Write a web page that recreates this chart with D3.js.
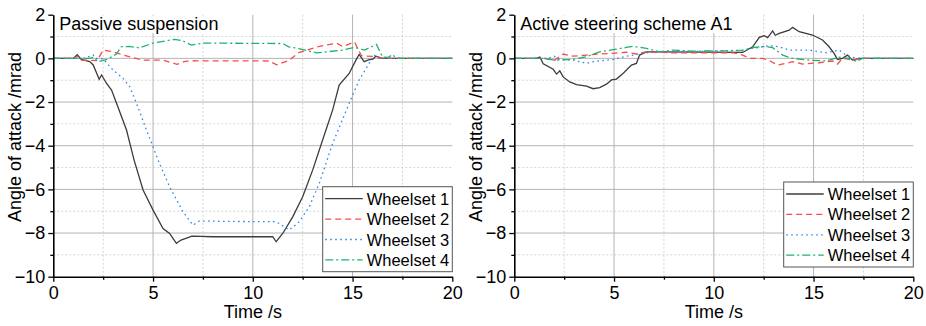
<!DOCTYPE html>
<html>
<head>
<meta charset="utf-8">
<script src="https://cdn.jsdelivr.net/npm/d3@7"></script>
<style>
    body { margin: 0; background: white; }
    svg text { font-family: "Liberation Sans", Arial, sans-serif; fill: black; }
</style>
</head>
<body>
<svg id="chart"></svg>
<script>
// data: [time s, angle mrad]
const passiveW1 = [[0,0],[1.0,0],[1.2,0.17],[1.4,-0.05],[1.83,-0.15],[2.0,-0.3],[2.3,-0.96],[2.42,-0.76],[2.67,-1.15],[2.92,-1.45],[3.17,-2.06],[3.67,-3.28],[4.05,-4.66],[4.5,-6.03],[5.0,-6.95],[5.5,-7.79],[5.83,-8.02],[6.17,-8.47],[6.4,-8.32],[6.95,-8.14],[8.0,-8.17],[11.0,-8.17],[11.17,-8.4],[11.5,-8.02],[12.0,-7.26],[12.5,-6.34],[13.0,-5.12],[13.5,-3.74],[14.0,-2.37],[14.33,-1.22],[14.83,-0.69],[15.17,-0.08],[15.33,0.18],[15.58,-0.15],[15.83,-0.06],[16.0,-0.05],[16.17,0.1],[16.5,0],[20,0]];
const passiveW2 = [[0,0],[1.0,0],[1.2,0.1],[1.4,-0.08],[2.2,-0.1],[2.5,0.38],[2.9,0.32],[3.4,0.18],[4.0,0.03],[4.5,-0.08],[5.5,-0.08],[6.2,-0.27],[6.6,-0.14],[7.0,-0.11],[10.8,-0.12],[11.2,-0.3],[11.8,-0.1],[12.3,0.26],[13.2,0.52],[14.2,0.7],[14.5,0.54],[15.1,0.75],[15.3,0.38],[15.45,0.12],[16.2,0.08],[16.5,0],[20,0]];
const passiveW3 = [[0,0],[1.5,0],[1.7,0.05],[2.0,0.15],[2.1,0.0],[2.5,-0.02],[3.0,-0.54],[3.5,-0.92],[3.83,-1.3],[4.17,-2.06],[4.67,-3.28],[5.0,-4.05],[5.25,-4.66],[5.83,-5.88],[6.5,-7.03],[7.0,-7.64],[7.33,-7.45],[9,-7.47],[11.17,-7.48],[11.83,-7.86],[12.33,-7.48],[12.83,-6.8],[13.33,-5.73],[14.0,-3.9],[14.83,-2.06],[15.33,-1.0],[15.83,-0.23],[16.08,0.15],[16.33,0.0],[20,0]];
const passiveW4 = [[0,0],[1.8,0],[2.0,0.05],[2.25,-0.15],[2.7,-0.05],[3.17,0.2],[3.4,0.53],[3.8,0.55],[4.33,0.48],[5.0,0.7],[6.08,0.87],[6.5,0.8],[6.92,0.61],[7.5,0.7],[11.5,0.68],[11.8,0.53],[12.3,0.45],[13.2,0.25],[14.5,0.38],[15.1,0.5],[15.6,0.38],[16.2,0.64],[16.5,0.06],[16.8,0.05],[17.0,0.18],[17.2,0],[20,0]];

const activeW1 = [[0,0],[1.1,0],[1.28,0.06],[1.45,-0.25],[1.95,-0.5],[2.12,-0.72],[2.28,-0.57],[2.45,-0.85],[2.78,-1.08],[3.12,-1.2],[3.62,-1.27],[3.95,-1.39],[4.28,-1.34],[4.62,-1.18],[4.87,-0.99],[5.12,-0.95],[5.45,-0.69],[5.87,-0.31],[6.12,-0.23],[6.28,0.15],[6.62,0.3],[7.28,0.3],[11.45,0.27],[11.95,0.53],[12.28,0.96],[12.53,1.04],[12.7,0.95],[12.95,1.26],[13.08,1.06],[13.28,1.14],[13.78,1.29],[13.95,1.42],[14.28,1.22],[14.95,1.07],[15.45,0.84],[15.78,0.53],[16.03,0.23],[16.2,-0.05],[16.45,0.0],[16.7,0.15],[16.95,-0.08],[17.12,-0.05],[17.3,0],[20,0]];
const activeW2 = [[0,0],[1.5,0],[2.0,-0.1],[2.45,0.2],[2.95,0.1],[3.62,0.15],[4.28,0.2],[4.95,0.23],[5.62,0.28],[6.12,0.2],[6.62,0.3],[8,0.25],[11.0,0.25],[11.45,0.15],[11.78,0.0],[12.45,0.0],[12.78,-0.1],[13.2,-0.31],[13.62,-0.23],[13.95,-0.15],[14.45,-0.26],[15.28,-0.2],[15.95,-0.12],[16.2,-0.26],[16.45,0],[16.8,-0.05],[17.0,-0.1],[17.3,0],[20,0]];
const activeW3 = [[0,0],[1.7,0],[2.0,0.1],[2.28,-0.05],[2.95,-0.08],[3.62,-0.23],[3.95,-0.15],[4.45,-0.1],[4.95,-0.05],[5.62,0.1],[6.28,0.2],[6.95,0.3],[10,0.33],[11.5,0.36],[11.95,0.46],[12.78,0.58],[13.28,0.53],[13.78,0.38],[14.78,0.38],[15.62,0.26],[16.28,0.38],[16.62,0.15],[16.95,0.05],[17.3,0],[20,0]];
const activeW4 = [[0,0],[1.5,0],[2.0,-0.08],[2.95,-0.05],[3.62,0.08],[4.28,0.3],[4.95,0.4],[5.62,0.5],[5.95,0.55],[6.62,0.46],[7.28,0.3],[7.95,0.38],[8.95,0.33],[10.62,0.35],[11.45,0.38],[11.95,0.49],[12.45,0.55],[12.95,0.49],[13.45,0.15],[13.95,0],[14.78,-0.08],[15.62,-0.12],[16.28,0.05],[16.95,-0.02],[17.12,-0.15],[17.45,0],[20,0]];

const seriesNames = ["Wheelset 1", "Wheelset 2", "Wheelset 3", "Wheelset 4"];
const panelTitles = ["Passive suspension", "Active steering scheme A1"];
const xTicks = [0, 5, 10, 15, 20];
const xMinorTicks = [2.5, 7.5, 12.5, 17.5];
const yTicks = [2, 0, -2, -4, -6, -8, -10];
const yMinorTicks = [1, -1, -3, -5, -7, -9];
const xLabel = "Time /s";
const yLabel = "Angle of attack /mrad";

const W = 926, H = 326;
const svg = d3.select("#chart").attr("width", W).attr("height", H);

const lineStyles = [
    { color: "#3c3c3c", dash: null },
    { color: "#ff4848", dash: "6,4" },
    { color: "#2f86e8", dash: "1.6,3.4" },
    { color: "#1db36b", dash: "8,3,2,3" }
];

function drawPanel(left, title, data, legendTop) {
    const g = svg.append("g");
    const x = d3.scaleLinear([0, 20], [left, left + 399]);
    const y = d3.scaleLinear([-10, 2], [276.7, 14.7]);

    // grid
    g.selectAll(".vminor").data(xMinorTicks).enter().append("line")
        .attr("x1", d => x(d)).attr("x2", d => x(d))
        .attr("y1", y(2)).attr("y2", y(-10))
        .attr("stroke", "#d4d4d4").attr("stroke-dasharray", "2,2");
    g.selectAll(".hminor").data(yMinorTicks).enter().append("line")
        .attr("x1", x(0)).attr("x2", x(20))
        .attr("y1", d => y(d)).attr("y2", d => y(d))
        .attr("stroke", "#d4d4d4").attr("stroke-dasharray", "2,2");
    g.selectAll(".vmajor").data([5, 10, 15]).enter().append("line")
        .attr("x1", d => x(d)).attr("x2", d => x(d))
        .attr("y1", y(2)).attr("y2", y(-10))
        .attr("stroke", "#b4b4b4");
    g.selectAll(".hmajor").data([0, -2, -4, -6, -8]).enter().append("line")
        .attr("x1", x(0)).attr("x2", x(20))
        .attr("y1", d => y(d)).attr("y2", d => y(d))
        .attr("stroke", "#b4b4b4");

    // title with white box behind
    const t = g.append("text")
        .attr("x", left + 6).attr("y", 30)
        .attr("font-size", 18)
        .text(title);
    const bb = t.node().getBBox();
    g.insert("rect", "text")
        .attr("x", left + 2).attr("y", y(2) + 1)
        .attr("width", bb.width + 8).attr("height", 33 - y(2) - 1)
        .attr("fill", "white");

    // curves
    const line = d3.line().x(d => x(d[0])).y(d => y(d[1]));
    data.forEach((s, i) => {
        g.append("path")
            .datum(s)
            .attr("d", line)
            .attr("fill", "none")
            .attr("stroke", lineStyles[i].color)
            .attr("stroke-width", 1.3)
            .attr("stroke-dasharray", lineStyles[i].dash);
    });

    // axes
    g.append("g").attr("transform", `translate(0, ${y(-10)})`)
        .call(d3.axisBottom(x).tickValues(xTicks).tickSize(5).tickPadding(5).tickSizeOuter(0));
    g.append("g").attr("transform", `translate(0, ${y(-10)})`)
        .call(d3.axisBottom(x).tickValues(xMinorTicks).tickSize(3).tickFormat("").tickSizeOuter(0))
        .select(".domain").remove();
    g.append("g").attr("transform", `translate(${x(0)}, 0)`)
        .call(d3.axisLeft(y).tickValues(yTicks).tickSize(5).tickPadding(3).tickSizeOuter(0));
    g.append("g").attr("transform", `translate(${x(0)}, 0)`)
        .call(d3.axisLeft(y).tickValues(yMinorTicks).tickSize(3).tickFormat("").tickSizeOuter(0))
        .select(".domain").remove();

    g.selectAll(".domain").attr("stroke", "#000").attr("stroke-width", 1.6);
    g.selectAll(".tick line").attr("stroke", "#000").attr("stroke-width", 1.3);
    g.selectAll(".tick text").attr("font-size", 18).attr("font-family", "Liberation Sans, Arial, sans-serif");

    g.append("text")
        .attr("x", (x(0) + x(20)) / 2).attr("y", 318)
        .attr("text-anchor", "middle").attr("font-size", 18)
        .text(xLabel);
    g.append("text")
        .attr("transform", `translate(${left - 32}, 137) rotate(-90)`)
        .attr("text-anchor", "middle").attr("font-size", 18)
        .text(yLabel);

    // legend
    const lx = x(20) - 129.6;
    const lg = g.append("g");
    lg.append("rect")
        .attr("x", lx).attr("y", legendTop)
        .attr("width", 129.6).attr("height", 85)
        .attr("fill", "white").attr("stroke", "#555").attr("stroke-width", 1);
    seriesNames.forEach((name, i) => {
        const cy = legendTop + 12 + 20.4 * i;
        lg.append("line")
            .attr("x1", lx + 2.5).attr("x2", lx + 40)
            .attr("y1", cy).attr("y2", cy)
            .attr("stroke", lineStyles[i].color)
            .attr("stroke-width", 1.3)
            .attr("stroke-dasharray", lineStyles[i].dash);
        lg.append("text")
            .attr("x", lx + 44).attr("y", cy + 6)
            .attr("font-size", 16.5)
            .text(name);
    });
}

drawPanel(53.3, panelTitles[0], [passiveW1, passiveW2, passiveW3, passiveW4], 186.7);
drawPanel(514.3, panelTitles[1], [activeW1, activeW2, activeW3, activeW4], 182);
</script>
</body>
</html>
